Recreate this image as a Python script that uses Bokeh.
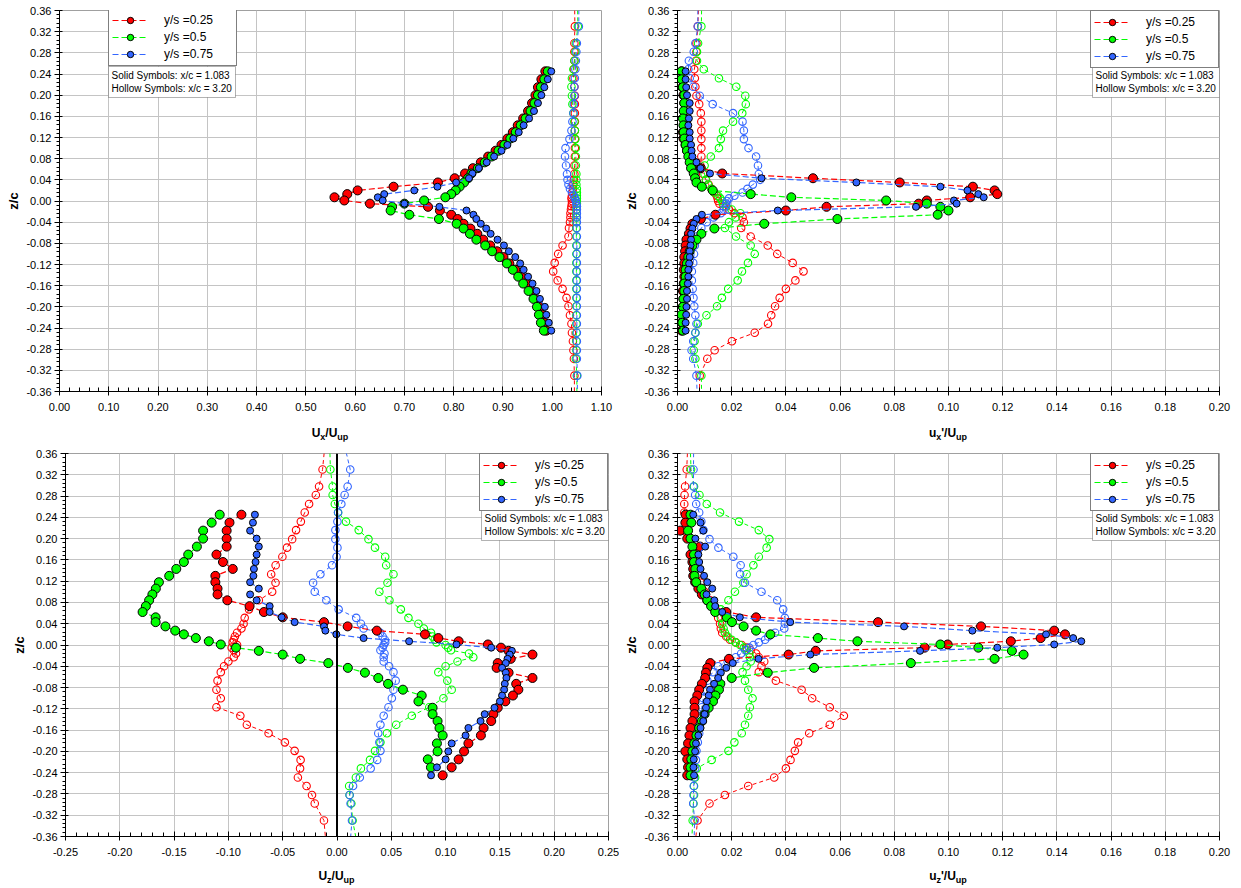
import numpy as np
from bokeh.plotting import figure
from bokeh.models import (Range1d, FixedTicker, PrintfTickFormatter, Legend, LegendItem,
                          BoxAnnotation, Label, Span, Div)
from bokeh.layouts import column, row
from bokeh.core.properties import value
from bokeh.embed import file_html
from bokeh.resources import INLINE

nan = float("nan")

# ---------------- texts / ticks ----------------
SERIES_LABELS = ["y/s =0.25", "y/s =0.5", "y/s =0.75"]
NOTE_SOLID = "Solid Symbols: x/c = 1.083"
NOTE_HOLLOW = "Hollow Symbols: x/c = 3.20"
Y_TITLE = "z/c"

Z_TICKS = [-0.36, -0.32, -0.28, -0.24, -0.20, -0.16, -0.12, -0.08, -0.04, 0.0,
           0.04, 0.08, 0.12, 0.16, 0.20, 0.24, 0.28, 0.32, 0.36]
UX_TICKS = [0.0, 0.1, 0.2, 0.3, 0.4, 0.5, 0.6, 0.7, 0.8, 0.9, 1.0, 1.1]
UP_TICKS = [0.0, 0.02, 0.04, 0.06, 0.08, 0.10, 0.12, 0.14, 0.16, 0.18, 0.20]
UZ_TICKS = [-0.25, -0.20, -0.15, -0.10, -0.05, 0.0, 0.05, 0.10, 0.15, 0.20, 0.25]

# ---------------- z/c positions ----------------
# solid symbols (x/c = 1.083)
ZS = [0.245, 0.230, 0.215, 0.200, 0.185, 0.170, 0.156, 0.143, 0.130, 0.118,
      0.106, 0.095, 0.084, 0.073, 0.062, 0.052, 0.043, 0.035, 0.027, 0.020,
      0.013, 0.007, 0.001, -0.005, -0.011, -0.018, -0.026, -0.034, -0.043, -0.052,
      -0.062, -0.073, -0.084, -0.095, -0.106, -0.118, -0.130, -0.143, -0.156, -0.170,
      -0.185, -0.200, -0.215, -0.230, -0.245]
# hollow symbols (x/c = 3.20)
ZH = [0.40, 0.330, 0.298, 0.282, 0.265, 0.249, 0.232, 0.216, 0.199, 0.183,
      0.166, 0.150, 0.133, 0.117, 0.100, 0.084, 0.067, 0.051, 0.040, 0.031,
      0.023, 0.016, 0.010, 0.005, 0.000, -0.005, -0.010, -0.016, -0.023, -0.031,
      -0.040, -0.051, -0.067, -0.084, -0.100, -0.117, -0.133, -0.150, -0.166, -0.183,
      -0.199, -0.216, -0.232, -0.249, -0.265, -0.282, -0.298, -0.330, -0.40]

# ---------------- Ux/Uup ----------------
UX_S_25 = [0.986, 0.978, 0.971, 0.966, 0.959, 0.951, 0.941, 0.930, 0.920, 0.909,
           0.897, 0.885, 0.870, 0.855, 0.839, 0.823, 0.802, 0.768, 0.678, 0.605,
           0.584, 0.558, 0.578, 0.630, 0.748, 0.772, 0.795, 0.808, 0.820, 0.834,
           0.848, 0.860, 0.874, 0.888, 0.901, 0.913, 0.925, 0.937, 0.947, 0.957,
           0.967, 0.974, 0.980, 0.984, 0.988]
UX_S_50 = [0.991, 0.984, 0.977, 0.971, 0.964, 0.956, 0.946, 0.936, 0.926, 0.915,
           0.903, 0.891, 0.877, 0.863, 0.849, 0.836, 0.829, 0.821, 0.812, 0.804,
           0.795, 0.783, 0.740, 0.700, 0.675, 0.672, 0.710, 0.770, 0.806, 0.820,
           0.833, 0.846, 0.864, 0.878, 0.893, 0.908, 0.920, 0.931, 0.941, 0.952,
           0.962, 0.969, 0.973, 0.977, 0.983]
UX_S_75 = [0.998, 0.991, 0.984, 0.978, 0.971, 0.963, 0.953, 0.942, 0.932, 0.921,
           0.909, 0.897, 0.882, 0.867, 0.851, 0.838, 0.831, 0.805, 0.767, 0.720,
           0.659, 0.646, 0.656, 0.700, 0.771, 0.826, 0.840, 0.846, 0.855, 0.866,
           0.875, 0.889, 0.902, 0.912, 0.925, 0.935, 0.942, 0.951, 0.960, 0.968,
           0.975, 0.985, 0.988, 0.993, 0.998]
UX_H_25 = [1.045, 1.046, 1.045, 1.045, 1.045, 1.044, 1.043, 1.045, 1.046, 1.046,
           1.046, 1.046, 1.046, 1.046, 1.046, 1.046, 1.045, 1.045, 1.044, 1.043,
           1.042, 1.041, 1.040, 1.039, 1.040, 1.040, 1.039, 1.038, 1.037, 1.037,
           1.036, 1.034, 1.033, 1.021, 1.012, 1.005, 1.002, 1.011, 1.021, 1.029,
           1.033, 1.036, 1.039, 1.040, 1.042, 1.043, 1.044, 1.045, 1.045]
UX_H_50 = [1.051, 1.052, 1.048, 1.047, 1.045, 1.043, 1.040, 1.039, 1.040, 1.041,
           1.043, 1.045, 1.046, 1.047, 1.048, 1.048, 1.048, 1.049, 1.049, 1.049,
           1.050, 1.050, 1.050, 1.050, 1.050, 1.050, 1.050, 1.049, 1.049, 1.049,
           1.049, 1.049, 1.049, 1.049, 1.049, 1.049, 1.049, 1.049, 1.049, 1.049,
           1.049, 1.049, 1.049, 1.049, 1.049, 1.049, 1.048, 1.050, 1.050]
UX_H_75 = [1.054, 1.054, 1.050, 1.049, 1.048, 1.047, 1.046, 1.045, 1.045, 1.044,
           1.043, 1.041, 1.039, 1.035, 1.027, 1.026, 1.028, 1.030, 1.031, 1.033,
           1.036, 1.040, 1.044, 1.046, 1.048, 1.049, 1.050, 1.050, 1.050, 1.050,
           1.050, 1.050, 1.050, 1.050, 1.050, 1.050, 1.050, 1.050, 1.050, 1.050,
           1.050, 1.050, 1.050, 1.050, 1.050, 1.050, 1.050, 1.051, 1.051]

# ---------------- ux'/Uup ----------------
UXP_S_25 = [0.0015, 0.0015, 0.0018, 0.0022, 0.0025, 0.0025, 0.0023, 0.0025, 0.0020, 0.0022,
            0.0030, 0.0035, 0.0045, 0.0060, 0.0086, 0.0165, 0.0500, 0.0820, 0.1090, 0.1170,
            0.1180, 0.1080, 0.0920, 0.0890, 0.0550, 0.0400, 0.0140, 0.0086, 0.0055, 0.0048,
            0.0042, 0.0033, 0.0030, 0.0028, 0.0025, 0.0025, 0.0023, 0.0025, 0.0023, 0.0020,
            0.0022, 0.0020, 0.0018, 0.0016, 0.0015]
UXP_S_50 = [0.0015, 0.0015, 0.0020, 0.0025, 0.0025, 0.0023, 0.0020, 0.0022, 0.0023, 0.0025,
            0.0030, 0.0035, 0.0040, 0.0045, 0.0050, 0.0060, 0.0065, 0.0070, 0.0090, 0.0130,
            0.0270, 0.0420, 0.0770, 0.0920, 0.0970, 0.1000, 0.0960, 0.0590, 0.0320, 0.0136,
            0.0088, 0.0070, 0.0055, 0.0045, 0.0040, 0.0035, 0.0030, 0.0030, 0.0025, 0.0025,
            0.0022, 0.0020, 0.0015, 0.0018, 0.0020]
UXP_S_75 = [0.0030, 0.0030, 0.0032, 0.0035, 0.0045, 0.0045, 0.0042, 0.0040, 0.0045, 0.0045,
            0.0050, 0.0052, 0.0055, 0.0070, 0.0085, 0.0120, 0.0310, 0.0660, 0.0970, 0.1070,
            0.1110, 0.1130, 0.1020, 0.1030, 0.0880, 0.0370, 0.0090, 0.0070, 0.0060, 0.0055,
            0.0050, 0.0050, 0.0048, 0.0045, 0.0045, 0.0043, 0.0040, 0.0040, 0.0038, 0.0035,
            0.0035, 0.0033, 0.0032, 0.0030, 0.0030]
UXP_H_25 = [0.0080, 0.0075, 0.0070, 0.0070, 0.0068, 0.0062, 0.0064, 0.0066, 0.0070, 0.0080,
            0.0086, 0.0088, 0.0088, 0.0088, 0.0088, 0.0088, 0.0085, 0.0095, 0.0105, 0.0115,
            0.0125, 0.0135, 0.0145, 0.0148, 0.0150, 0.0155, 0.0170, 0.0190, 0.0210, 0.0240,
            0.0245, 0.0235, 0.0270, 0.0333, 0.0368, 0.0425, 0.0465, 0.0435, 0.0400, 0.0377,
            0.0360, 0.0346, 0.0334, 0.0285, 0.0201, 0.0137, 0.0110, 0.0082, 0.0080]
UXP_H_50 = [0.0090, 0.0088, 0.0076, 0.0072, 0.0072, 0.0097, 0.0153, 0.0217, 0.0250, 0.0252,
            0.0239, 0.0205, 0.0168, 0.0160, 0.0153, 0.0123, 0.0100, 0.0100, 0.0105, 0.0113,
            0.0125, 0.0135, 0.0150, 0.0158, 0.0165, 0.0168, 0.0180, 0.0200, 0.0232, 0.0215,
            0.0190, 0.0175, 0.0216, 0.0270, 0.0285, 0.0260, 0.0238, 0.0222, 0.0187, 0.0164,
            0.0146, 0.0107, 0.0075, 0.0066, 0.0063, 0.0060, 0.0066, 0.0088, 0.0090]
UXP_H_75 = [0.0075, 0.0075, 0.0066, 0.0060, 0.0042, 0.0040, 0.0045, 0.0058, 0.0082, 0.0130,
            0.0205, 0.0240, 0.0245, 0.0245, 0.0262, 0.0290, 0.0297, 0.0300, 0.0305, 0.0278,
            0.0258, 0.0240, 0.0210, 0.0190, 0.0182, 0.0180, 0.0178, 0.0170, 0.0160, 0.0133,
            0.0108, 0.0088, 0.0070, 0.0064, 0.0061, 0.0058, 0.0053, 0.0053, 0.0056, 0.0059,
            0.0062, 0.0066, 0.0070, 0.0066, 0.0058, 0.0052, 0.0058, 0.0070, 0.0075]

# ---------------- Uz/Uup ----------------
UZ_S_25 = [-0.088, -0.099, -0.1016, -0.1016, -0.1016, -0.111, -0.105, -0.096, -0.112, -0.112,
           -0.110, -0.110, -0.101, -0.0805, -0.0673, -0.050, -0.012, 0.0098, 0.0367, 0.081,
           0.0933, 0.112, 0.139, 0.151, 0.158, 0.180, 0.160, 0.148, 0.147, 0.158,
           0.180, 0.165, 0.167, 0.162, 0.155, 0.148, 0.144, 0.142, 0.135, 0.1325,
           0.121, 0.117, 0.112, 0.1056, 0.0973]
UZ_S_50 = [-0.108, -0.1154, -0.1233, -0.1233, -0.129, -0.137, -0.141, -0.148, -0.1545, -0.164,
           -0.1668, -0.170, -0.173, -0.176, -0.179, -0.167, -0.167, -0.158, -0.149, -0.141,
           -0.130, -0.118, -0.107, -0.093, -0.072, -0.050, -0.034, -0.008, 0.010, 0.0257,
           0.038, 0.047, 0.0607, 0.078, 0.075, 0.088, 0.088, 0.0926, 0.0944, 0.0973,
           0.092, 0.0926, 0.0836, 0.0865, nan]
UZ_S_75 = [-0.0756, -0.0774, -0.080, -0.074, -0.072, -0.074, -0.075, -0.0765, -0.077, -0.080,
           -0.072, -0.080, -0.074, -0.062, -0.062, -0.051, -0.039, -0.012, -0.0107, -0.0006,
           0.0245, 0.0664, 0.110, 0.142, 0.161, 0.159, 0.157, 0.1554, 0.152, 0.1554,
           0.156, 0.1545, 0.1539, 0.152, 0.150, 0.145, 0.136, 0.1322, 0.121, 0.1184,
           0.1056, 0.1025, 0.100, 0.092, 0.0866]
UZ_H_25 = [-0.010, -0.0133, -0.0165, -0.0195, -0.0257, -0.0297, -0.0333, -0.0377, -0.0413, -0.046,
           -0.0503, -0.0565, -0.0606, -0.0566, -0.0597, -0.072, -0.081, -0.085, -0.086, -0.088,
           -0.092, -0.094, -0.095, -0.096, -0.092, -0.097, -0.095, -0.093, -0.095, -0.100,
           -0.104, -0.107, -0.110, -0.111, -0.107, -0.111, -0.089, -0.083, -0.063, -0.048,
           -0.039, -0.0335, -0.034, -0.036, -0.028, -0.023, -0.0205, -0.012, -0.009]
UZ_H_50 = [-0.007, -0.0061, -0.004, -0.004, -0.002, 0.001, 0.0083, 0.020, 0.029, 0.035,
           0.0444, 0.0453, 0.052, 0.0465, 0.039, 0.0483, 0.0588, 0.0658, 0.075, 0.080,
           0.0866, 0.088, 0.090, 0.0916, 0.100, 0.1024, 0.105, 0.1216, 0.1255, 0.111,
           0.100, 0.0933, 0.1016, 0.1056, 0.098, 0.085, 0.0689, 0.0545, 0.046, 0.040,
           0.035, 0.0304, 0.022, 0.0174, 0.0112, 0.0116, 0.0132, 0.0144, 0.021]
UZ_H_75 = [0.004, 0.0122, 0.0098, 0.007, 0.004, 0.001, 0.0004, -0.0015, -0.0015, 0.0004,
           -0.0004, -0.0046, -0.0153, -0.022, -0.0205, -0.0098, 0.0015, 0.0177, 0.022, 0.0245,
           0.0398, 0.042, 0.044, 0.0444, 0.043, 0.042, 0.040, 0.0437, 0.043, 0.043,
           0.048, 0.052, 0.054, 0.052, 0.0505, 0.0474, 0.043, 0.040, 0.038, 0.039,
           0.040, 0.037, 0.031, 0.021, 0.0148, 0.0116, 0.0125, 0.0138, 0.011]

# ---------------- uz'/Uup ----------------
UZP_S_25 = [0.0030, 0.0029, 0.0010, 0.0036, 0.0083, 0.0048, 0.0055, 0.0058, 0.0058, 0.0065,
            0.0077, 0.0090, 0.0110, 0.0134, 0.0180, 0.0290, 0.0740, 0.1120, 0.1390, 0.1430,
            0.1340, 0.1230, 0.0997, 0.0912, 0.0510, 0.0410, 0.0190, 0.0121, 0.0110, 0.0105,
            0.0102, 0.0090, 0.0080, 0.0073, 0.0063, 0.0063, 0.0063, 0.0055, 0.0048, 0.0044,
            0.0039, 0.0029, 0.0036, 0.0039, 0.0036]
UZP_S_50 = [0.0048, 0.0051, 0.0039, 0.0048, 0.0055, 0.0061, 0.0061, 0.0066, 0.0063, 0.0069,
            0.0088, 0.0100, 0.0110, 0.0124, 0.0139, 0.0182, 0.0201, 0.0244, 0.0290, 0.0343,
            0.0518, 0.0664, 0.0970, 0.1110, 0.1234, 0.1277, 0.1170, 0.0861, 0.0504, 0.0333,
            0.0200, 0.0158, 0.0153, 0.0140, 0.0131, 0.0115, 0.0100, 0.0090, 0.0080, 0.0070,
            0.0062, 0.0055, 0.0051, 0.0048, 0.0048]
UZP_S_75 = [0.0058, 0.0085, 0.0095, 0.0066, 0.0102, 0.0077, 0.0080, 0.0085, 0.0098, 0.0110,
            0.0128, 0.0107, 0.0136, 0.0139, 0.0165, 0.0230, 0.0416, 0.0836, 0.1088, 0.1360,
            0.1460, 0.1490, 0.1390, 0.1180, 0.0895, 0.0490, 0.0299, 0.0204, 0.0180, 0.0160,
            0.0150, 0.0135, 0.0120, 0.0115, 0.0108, 0.0105, 0.0100, 0.0095, 0.0085, 0.0077,
            0.0068, 0.0065, 0.0060, 0.0059, 0.0061]
UZP_H_25 = [0.0040, 0.0034, 0.0028, 0.0026, 0.0025, 0.0025, 0.0030, 0.0040, 0.0050, 0.0060,
            0.0065, 0.0070, 0.0075, 0.0085, 0.0100, 0.0120, 0.0140, 0.0150, 0.0157, 0.0160,
            0.0165, 0.0180, 0.0194, 0.0215, 0.0237, 0.0255, 0.0270, 0.0290, 0.0300, 0.0320,
            0.0310, 0.0300, 0.0363, 0.0458, 0.0497, 0.0562, 0.0614, 0.0562, 0.0486, 0.0445,
            0.0433, 0.0417, 0.0400, 0.0357, 0.0261, 0.0175, 0.0118, 0.0074, 0.0060]
UZP_H_50 = [0.0045, 0.0050, 0.0061, 0.0081, 0.0108, 0.0157, 0.0227, 0.0300, 0.0339, 0.0329,
            0.0300, 0.0280, 0.0255, 0.0243, 0.0212, 0.0188, 0.0160, 0.0160, 0.0165, 0.0170,
            0.0175, 0.0185, 0.0200, 0.0215, 0.0231, 0.0245, 0.0255, 0.0265, 0.0267, 0.0270,
            0.0255, 0.0240, 0.0249, 0.0261, 0.0277, 0.0267, 0.0261, 0.0249, 0.0237, 0.0210,
            0.0188, 0.0126, 0.0071, 0.0065, 0.0061, 0.0061, 0.0059, 0.0056, 0.0050]
UZP_H_75 = [0.0060, 0.0059, 0.0059, 0.0065, 0.0069, 0.0080, 0.0088, 0.0096, 0.0118, 0.0151,
            0.0206, 0.0233, 0.0231, 0.0249, 0.0310, 0.0368, 0.0390, 0.0396, 0.0396, 0.0394,
            0.0360, 0.0335, 0.0323, 0.0300, 0.0280, 0.0265, 0.0250, 0.0235, 0.0215, 0.0185,
            0.0150, 0.0130, 0.0110, 0.0100, 0.0095, 0.0090, 0.0085, 0.0082, 0.0080, 0.0075,
            0.0070, 0.0068, 0.0065, 0.0061, 0.0060, 0.0059, 0.0058, 0.0063, 0.0060]

# ---------------- styling ----------------
FONT = "Liberation Sans"
COLORS = ["#FF0000", "#00FF00", "#3366FF"]
SOLID_SIZE = [9, 9, 7]


def title_div(parts, width, height, center_x):
    sub = ('<span style="font-size:9px;position:relative;top:3px;">{}</span>')
    html = "".join(sub.format(t) if s else t for t, s in parts)
    pad = max(0, 2 * center_x - width)
    inner = (f'<div style="width:{width}px;height:{height}px;line-height:{height}px;'
             f'box-sizing:border-box;padding-left:{pad}px;text-align:center;white-space:nowrap;'
             f"font-family:'{FONT}';font-weight:bold;font-size:12px;color:#000;\">{html}</div>")
    return Div(text=inner, width=width, height=height, margin=0)


def make_panel(xr, xticks, xminor_step, solid, hollow, parts, geom, legend_left=None, zero_line=False):
    W, fw, fh, bl, bt, bb, ystand, div_h = geom
    H = bt + fh + bb
    p = figure(width=W, height=H, min_border_left=bl, min_border_right=W - bl - fw,
               min_border_top=bt, min_border_bottom=bb, title=None,
               x_range=Range1d(*xr), y_range=Range1d(-0.36, 0.36),
               output_backend="svg", toolbar_location=None, tools="")
    p.background_fill_color = "white"
    p.border_fill_color = "white"
    p.outline_line_color = "#A0A0A0"
    p.outline_line_width = 1

    x_minor = [round(v, 4) for v in np.arange(xr[0], xr[1] + 1e-9, xminor_step)]
    y_minor = [round(v, 4) for v in np.arange(-0.36, 0.36 + 1e-9, 0.008)]
    p.xaxis.ticker = FixedTicker(ticks=xticks, minor_ticks=x_minor)
    p.yaxis.ticker = FixedTicker(ticks=Z_TICKS, minor_ticks=y_minor)
    p.xgrid.ticker = FixedTicker(ticks=xticks)
    p.ygrid.ticker = FixedTicker(ticks=Z_TICKS)
    p.xaxis.formatter = PrintfTickFormatter(format="%.2f")
    p.yaxis.formatter = PrintfTickFormatter(format="%.2f")
    for g in (p.xgrid, p.ygrid):
        g.grid_line_color = "#C4C4C4"
        g.grid_line_width = 1
    for ax in (p.xaxis, p.yaxis):
        ax.axis_line_color = "black"
        ax.axis_line_width = 1
        ax.major_tick_line_color = "black"
        ax.minor_tick_line_color = "black"
        ax.major_label_text_font = FONT
        ax.major_label_text_font_size = "11px"
        ax.major_label_text_color = "black"
    p.xaxis.major_tick_in = 5
    p.xaxis.major_tick_out = 4
    p.xaxis.minor_tick_in = 4
    p.xaxis.minor_tick_out = 0
    p.xaxis.major_label_standoff = 7
    p.yaxis.major_tick_in = 3
    p.yaxis.major_tick_out = 5
    p.yaxis.minor_tick_in = 0
    p.yaxis.minor_tick_out = 3
    p.yaxis.major_label_standoff = 3
    p.yaxis.axis_label = Y_TITLE
    p.yaxis.axis_label_text_font = FONT
    p.yaxis.axis_label_text_font_style = "bold"
    p.yaxis.axis_label_text_font_size = "13px"
    p.yaxis.axis_label_text_color = "black"
    p.yaxis.axis_label_standoff = ystand

    if zero_line:
        p.add_layout(Span(location=0, dimension="height", line_color="black", line_width=2))

    for i in range(3):
        p.line(hollow[i], ZH, line_color=COLORS[i], line_dash="4 3", line_width=1)
        p.scatter(hollow[i], ZH, marker="circle", size=7.5, fill_color=None,
                  line_color=COLORS[i], line_width=1.1)
    items = []
    for i in range(3):
        l = p.line(solid[i], ZS, line_color=COLORS[i], line_dash="6 3", line_width=1.2)
        s = p.scatter(solid[i], ZS, marker="circle", size=SOLID_SIZE[i], fill_color=COLORS[i],
                      line_color="black", line_width=1)
        items.append(LegendItem(label=value(SERIES_LABELS[i]), renderers=[l, s]))

    leg_w, leg_h, box_h = 127, 56, 31
    if legend_left is None:
        loc = "top_right"
        left_px = fw - leg_w
    else:
        loc = (legend_left, fh - leg_h)
        left_px = legend_left
    leg = Legend(items=items, location=loc, orientation="vertical", padding=3, spacing=1, margin=0,
                 glyph_width=36, glyph_height=16, label_height=16, label_width=69, label_standoff=16,
                 label_text_font=FONT, label_text_font_size="12px", label_text_color="black",
                 border_line_color="black", border_line_width=1.5,
                 background_fill_color="white", background_fill_alpha=1.0)
    p.add_layout(leg)

    def fx(px):
        return xr[0] + px / fw * (xr[1] - xr[0])

    def fy(py):
        return 0.36 - py / fh * 0.72

    p.add_layout(BoxAnnotation(left=fx(left_px), right=fx(left_px + leg_w), top=fy(leg_h),
                               bottom=fy(leg_h + box_h), fill_color="white", fill_alpha=1.0,
                               line_color="black", line_width=1))
    for txt, dy in ((NOTE_SOLID, 8.5), (NOTE_HOLLOW, 22.0)):
        p.add_layout(Label(x=fx(left_px + 3), y=fy(leg_h + dy), text=txt, text_font=FONT,
                           text_font_size="10px", text_color="black",
                           text_align="left", text_baseline="middle"))

    div = title_div(parts, W, div_h, bl + fw / 2)
    return column(p, div, spacing=0)


# geom: (total width, frame width, frame height, left border, top border, bottom border,
#        y-title standoff, x-title strip height)
c1 = make_panel((0.0, 1.1), UX_TICKS, 0.02, [UX_S_25, UX_S_50, UX_S_75], [UX_H_25, UX_H_50, UX_H_75],
                [("U", False), ("x", True), ("/U", False), ("up", True)],
                (619, 542, 381, 59, 10, 34, 2, 16), legend_left=49)
c2 = make_panel((0.0, 0.2), UP_TICKS, 0.004, [UXP_S_25, UXP_S_50, UXP_S_75], [UXP_H_25, UXP_H_50, UXP_H_75],
                [("u", False), ("x", True), ("'/U", False), ("up", True)],
                (617, 542, 381, 58, 10, 34, 2, 16))
c3 = make_panel((-0.25, 0.25), UZ_TICKS, 0.01, [UZ_S_25, UZ_S_50, UZ_S_75], [UZ_H_25, UZ_H_50, UZ_H_75],
                [("U", False), ("z", True), ("/U", False), ("up", True)],
                (619, 543, 383, 65, 12, 30, 2, 20), zero_line=True)
c4 = make_panel((0.0, 0.2), UP_TICKS, 0.004, [UZP_S_25, UZP_S_50, UZP_S_75], [UZP_H_25, UZP_H_50, UZP_H_75],
                [("u", False), ("z", True), ("'/U", False), ("up", True)],
                (617, 542, 383, 58, 12, 30, 2, 20))

layout = column(row(c1, c2, spacing=0), row(c3, c4, spacing=0), spacing=0)

with open("out.html", "w") as f:
    f.write(file_html(layout, INLINE))
